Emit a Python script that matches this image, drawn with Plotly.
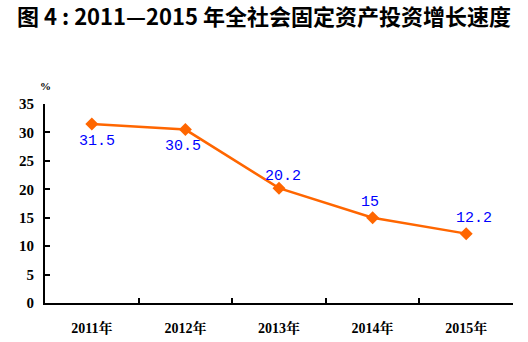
import plotly.graph_objects as go

years = ["2011年", "2012年", "2013年", "2014年", "2015年"]
growth = [31.5, 30.5, 20.2, 15, 12.2]
y_ticks = [0, 5, 10, 15, 20, 25, 30, 35]
# vertical / horizontal nudges (px) for the value labels
label_dy = [-18, -17, 12, 15, 15]
label_dx = [5, -2, 4, -3, 8]

fig = go.Figure()
fig.add_trace(go.Scatter(
    x=years, y=growth,
    mode="lines+markers",
    line=dict(color="#FF6600", width=2.5),
    marker=dict(symbol="diamond", size=10, color="#FF6600"),
    cliponaxis=False,
    hoverinfo="skip",
))

for yr, v, dy, dx in zip(years, growth, label_dy, label_dx):
    fig.add_annotation(
        x=yr, y=v, text=str(v), showarrow=False,
        xshift=dx, yshift=dy, xanchor="center", yanchor="middle",
        font=dict(family="Liberation Mono, DejaVu Sans Mono, monospace", size=15, color="#0000FF"),
    )

fig.update_layout(
    width=528, height=342,
    margin=dict(l=45, r=15, t=104, b=39, autoexpand=False),
    paper_bgcolor="white", plot_bgcolor="white",
    showlegend=False,
    title=dict(
        text="<b>图 4 : 2011—2015 年全社会固定资产投资增长速度</b>",
        x=0.5, xanchor="center", y=0.948, yanchor="middle",
        font=dict(family="Noto Sans CJK SC", size=22, color="black"),
    ),
)
fig.update_xaxes(
    type="category", range=[-0.5, 4.5], automargin=False,
    showline=True, linecolor="black", linewidth=2,
    ticks="inside", tickson="boundaries", ticklen=5, tickcolor="black", tickwidth=1.5,
    showgrid=False, zeroline=False,
    tickfont=dict(family="Liberation Serif, Noto Serif CJK SC, serif", size=14, color="black", weight="bold"),
    ticklabelstandoff=11,
)
fig.update_yaxes(
    range=[0, 35], tickvals=y_ticks, automargin=False,
    showline=True, linecolor="black", linewidth=2,
    ticks="inside", ticklen=5, tickcolor="black", tickwidth=1.5,
    showgrid=False, zeroline=False,
    tickfont=dict(family="Liberation Serif, serif", size=15, color="black", weight="bold"),
    ticklabelstandoff=6,
)
fig.add_annotation(
    text="<b>%</b>", xref="paper", yref="paper", x=0, y=1, yshift=18,
    showarrow=False, xanchor="center", yanchor="middle",
    font=dict(family="Liberation Serif, serif", size=11, color="black"),
)

fig.write_html("out.html")
